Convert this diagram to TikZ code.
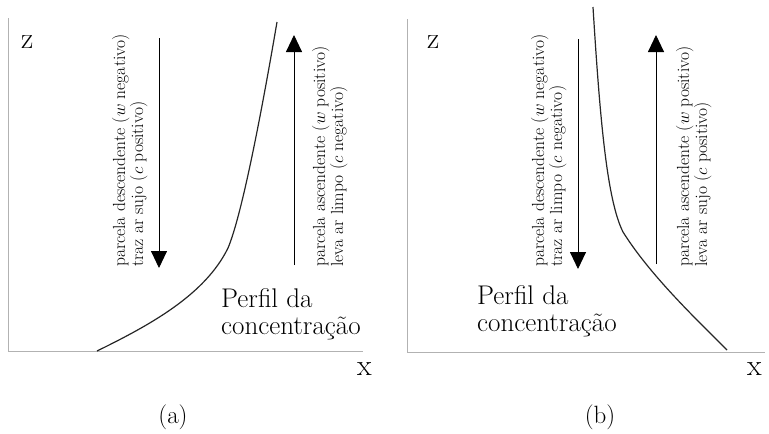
\documentclass[tikz,border=0pt]{standalone}
\usepackage{fontspec}
\usetikzlibrary{arrows.meta}
\begin{document}
\begin{tikzpicture}[x=1pt,y=-1pt,
  axis/.style={draw=black!30,line width=1pt},
  flow/.style={draw=black,line width=0.9pt,-{Triangle[width=16pt,length=17pt]}},
  prof/.style={draw=black!85,line width=1.2pt},
  vtext/.style={rotate=90,anchor=base west,inner sep=0pt,font=\fontsize{17.5}{18}\selectfont},
  big/.style={anchor=north west,inner sep=0pt,align=left,font=\fontsize{27}{27.5}\selectfont},
  lab/.style={anchor=base west,inner sep=0pt,font=\fontsize{30}{30}\selectfont},
  captext/.style={anchor=base,inner sep=0pt,font=\fontsize{25}{26}\selectfont}]
\useasboundingbox (0,0) rectangle (769,434);
% ---------- panel (a) ----------
\coordinate (aO) at (8,351);
\coordinate (aT) at (8,18);
\coordinate (aR) at (363,351);
\draw[axis] (aT) -- (aO) -- (aR);
\node[lab] (az) at (21,48) {z};
\node[lab] (ax) at (357,375) {x};
\node[captext] (acap) at (173,423) {(a)};
\coordinate (ad1) at (159,38);
\coordinate (ad2) at (159,268);
\draw[flow] (ad1) -- (ad2);
\coordinate (au1) at (294,265);
\coordinate (au2) at (294,35);
\draw[flow] (au1) -- (au2);
\node[vtext] (at1) at (125,267) {parcela descendente ($w$ negativo)};
\node[vtext] (at2) at (143,267) {traz ar sujo ($c$ positivo)};
\node[vtext] (at3) at (325,267) {parcela ascendente ($w$ positivo)};
\node[vtext] (at4) at (343,267) {leva ar limpo ($c$ negativo)};
\coordinate (ac1) at (97,351);
\coordinate (ac2) at (228,248);
\coordinate (ac3) at (277,22);
\draw[prof] (ac1) .. controls (150,325) and (205,295) .. (ac2)
  .. controls (242,215) and (262,110) .. (ac3);
\node[big] (ap) at (221,288) {Perfil da\\concentração};
% ---------- panel (b) ----------
\coordinate (bO) at (407,352);
\coordinate (bT) at (407,19);
\coordinate (bR) at (765,352);
\draw[axis] (bT) -- (bO) -- (bR);
\node[lab] (bz) at (427,48) {z};
\node[lab] (bx) at (747,375) {x};
\node[captext] (bcap) at (600,423) {(b)};
\coordinate (bd1) at (578,39);
\coordinate (bd2) at (578,269);
\draw[flow] (bd1) -- (bd2);
\coordinate (bu1) at (656,264);
\coordinate (bu2) at (656,35);
\draw[flow] (bu1) -- (bu2);
\node[vtext] (bt1) at (544,267) {parcela descendente ($w$ negativo)};
\node[vtext] (bt2) at (562,267) {traz ar limpo ($c$ negativo)};
\node[vtext] (bt3) at (689,267) {parcela ascendente ($w$ positivo)};
\node[vtext] (bt4) at (707,267) {leva ar sujo ($c$ positivo)};
\coordinate (bc1) at (593,7);
\coordinate (bc2) at (623,232);
\coordinate (bc3) at (727,350);
\draw[prof] (bc1) .. controls (600,120) and (607,200) .. (bc2)
  .. controls (650,275) and (695,318) .. (bc3);
\node[big] (bp) at (477,285) {Perfil da\\concentração};
\end{tikzpicture}
\end{document}
